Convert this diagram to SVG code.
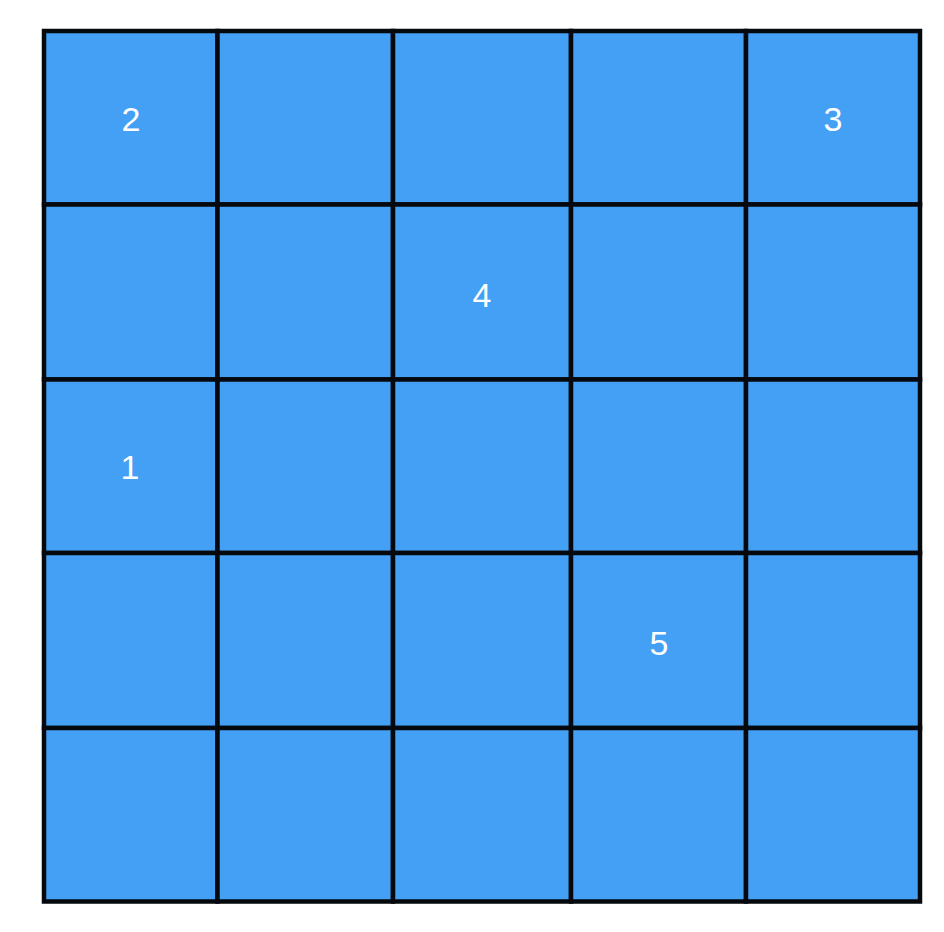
<svg xmlns="http://www.w3.org/2000/svg" width="944" height="932" viewBox="0 0 944 932">
<style>
.c{fill:#43A0F5;stroke:#05080d;stroke-width:4.5}
.t{fill:#ffffff;font-family:"Liberation Sans","Helvetica",Arial,sans-serif;font-size:34px;text-anchor:middle}
</style>
<rect width="944" height="932" fill="#ffffff"/>
<g id="r0c0"><rect class="c" x="44" y="31" width="173.5" height="173.5"/><text class="t" x="131" y="130.5">2</text></g>
<g id="r0c1"><rect class="c" x="217.5" y="31" width="175.5" height="173.5"/></g>
<g id="r0c2"><rect class="c" x="393" y="31" width="178" height="173.5"/></g>
<g id="r0c3"><rect class="c" x="571" y="31" width="175" height="173.5"/></g>
<g id="r0c4"><rect class="c" x="746" y="31" width="174" height="173.5"/><text class="t" x="833" y="130.5">3</text></g>
<g id="r1c0"><rect class="c" x="44" y="204.5" width="173.5" height="175"/></g>
<g id="r1c1"><rect class="c" x="217.5" y="204.5" width="175.5" height="175"/></g>
<g id="r1c2"><rect class="c" x="393" y="204.5" width="178" height="175"/><text class="t" x="482" y="307">4</text></g>
<g id="r1c3"><rect class="c" x="571" y="204.5" width="175" height="175"/></g>
<g id="r1c4"><rect class="c" x="746" y="204.5" width="174" height="175"/></g>
<g id="r2c0"><rect class="c" x="44" y="379.5" width="173.5" height="173.5"/><text class="t" x="130" y="479">1</text></g>
<g id="r2c1"><rect class="c" x="217.5" y="379.5" width="175.5" height="173.5"/></g>
<g id="r2c2"><rect class="c" x="393" y="379.5" width="178" height="173.5"/></g>
<g id="r2c3"><rect class="c" x="571" y="379.5" width="175" height="173.5"/></g>
<g id="r2c4"><rect class="c" x="746" y="379.5" width="174" height="173.5"/></g>
<g id="r3c0"><rect class="c" x="44" y="553" width="173.5" height="175"/></g>
<g id="r3c1"><rect class="c" x="217.5" y="553" width="175.5" height="175"/></g>
<g id="r3c2"><rect class="c" x="393" y="553" width="178" height="175"/></g>
<g id="r3c3"><rect class="c" x="571" y="553" width="175" height="175"/><text class="t" x="659" y="654.5">5</text></g>
<g id="r3c4"><rect class="c" x="746" y="553" width="174" height="175"/></g>
<g id="r4c0"><rect class="c" x="44" y="728" width="173.5" height="173.5"/></g>
<g id="r4c1"><rect class="c" x="217.5" y="728" width="175.5" height="173.5"/></g>
<g id="r4c2"><rect class="c" x="393" y="728" width="178" height="173.5"/></g>
<g id="r4c3"><rect class="c" x="571" y="728" width="175" height="173.5"/></g>
<g id="r4c4"><rect class="c" x="746" y="728" width="174" height="173.5"/></g>
<g id="connectors"></g>
</svg>
